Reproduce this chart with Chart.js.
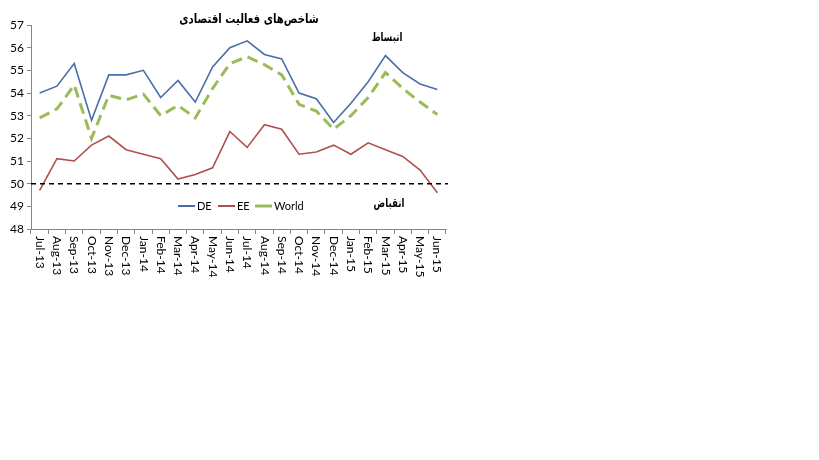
<!DOCTYPE html>
<html>
<head>
<meta charset="utf-8">
<script src="https://cdn.jsdelivr.net/npm/chart.js@4.4.1/dist/chart.umd.min.js"></script>
<style>
  html, body { margin: 0; padding: 0; background: #fff; }
  #wrap { width: 819px; height: 460px; position: relative; }
</style>
</head>
<body>
<div id="wrap"><canvas id="pmiChart" width="819" height="460"></canvas></div>
<script>
// months on the x axis
const months = ['Jul-13', 'Aug-13', 'Sep-13', 'Oct-13', 'Nov-13', 'Dec-13', 'Jan-14', 'Feb-14',
  'Mar-14', 'Apr-14', 'May-14', 'Jun-14', 'Jul-14', 'Aug-14', 'Sep-14', 'Oct-14', 'Nov-14',
  'Dec-14', 'Jan-15', 'Feb-15', 'Mar-15', 'Apr-15', 'May-15', 'Jun-15'];

// series values
const deValues = [54.0, 54.3, 55.3, 52.8, 54.8, 54.8, 55.0, 53.8, 54.55, 53.6, 55.15, 56.0,
  56.3, 55.7, 55.5, 54.0, 53.75, 52.7, 53.55, 54.5, 55.65, 54.9, 54.4, 54.15];
const eeValues = [49.7, 51.1, 51.0, 51.7, 52.1, 51.5, 51.3, 51.1, 50.2, 50.4, 50.7, 52.3,
  51.6, 52.6, 52.4, 51.3, 51.4, 51.7, 51.3, 51.8, 51.5, 51.2, 50.6, 49.6];
const worldValues = [52.9, 53.3, 54.35, 52.0, 53.9, 53.7, 53.95, 53.0, 53.45, 52.9, 54.2, 55.3,
  55.6, 55.25, 54.8, 53.5, 53.2, 52.4, 53.0, 53.8, 54.9, 54.2, 53.6, 53.05];

const yTicks = [48, 49, 50, 51, 52, 53, 54, 55, 56, 57];
const chartTitle = 'شاخص‌های فعالیت اقتصادی';
const expansionLabel = 'انبساط';
const contractionLabel = 'انقباض';
const thresholdValue = 50;

const legendItems = [
  { text: 'DE', color: '#4a6fa8', width: 2, x: 178 },
  { text: 'EE', color: '#b0504e', width: 2, x: 218 },
  { text: 'World', color: '#9bbb59', width: 3, x: 255 }
];

// squeezed text, the persian font in the original is narrower than DejaVu
function drawNarrow(ctx, text, cx, cy, squeeze) {
  ctx.save();
  ctx.translate(cx, cy);
  ctx.scale(squeeze, 1);
  ctx.fillText(text, 0, 0);
  ctx.restore();
}

// draws title, threshold line, side notes, rotated month labels and legend
const extrasPlugin = {
  id: 'extras',
  afterDatasetsDraw(chart) {
    const ctx = chart.ctx;
    const area = chart.chartArea;
    const x = chart.scales.x;
    const y = chart.scales.y;

    // dashed 50 line
    const y50 = y.getPixelForValue(thresholdValue);
    ctx.save();
    ctx.strokeStyle = '#000';
    ctx.lineWidth = 1.5;
    ctx.setLineDash([5, 4]);
    ctx.beginPath();
    ctx.moveTo(area.left, y50);
    ctx.lineTo(area.right + 2, y50);
    ctx.stroke();
    ctx.restore();

    // title and notes
    ctx.save();
    ctx.fillStyle = '#000';
    ctx.textAlign = 'center';
    ctx.textBaseline = 'middle';
    ctx.direction = 'rtl';
    ctx.font = 'bold 13px "DejaVu Sans", sans-serif';
    drawNarrow(ctx, chartTitle, 249, 20, 0.78);
    ctx.font = 'bold 12px "DejaVu Sans", sans-serif';
    drawNarrow(ctx, expansionLabel, 387, 38, 0.72);
    drawNarrow(ctx, contractionLabel, 389, 204, 0.72);
    ctx.restore();

    // month labels, rotated clockwise
    ctx.save();
    ctx.fillStyle = '#000';
    ctx.font = '12px Lato, "Open Sans", sans-serif';
    ctx.textAlign = 'left';
    ctx.textBaseline = 'middle';
    months.forEach((m, i) => {
      const px = x.getPixelForValue(i);
      ctx.save();
      ctx.translate(px, area.bottom + 7);
      ctx.rotate(Math.PI / 2);
      ctx.fillText(m, 0, 0);
      ctx.restore();
    });
    ctx.restore();

    // legend
    ctx.save();
    ctx.font = '11px Lato, "Open Sans", sans-serif';
    ctx.textBaseline = 'middle';
    ctx.fillStyle = '#000';
    legendItems.forEach(item => {
      ctx.strokeStyle = item.color;
      ctx.lineWidth = item.width;
      ctx.beginPath();
      ctx.moveTo(item.x, 206);
      ctx.lineTo(item.x + 17, 206);
      ctx.stroke();
      ctx.fillText(item.text, item.x + 19, 206);
    });
    ctx.restore();
  }
};

const ctx = document.getElementById('pmiChart').getContext('2d');
const myChart = new Chart(ctx, {
  type: 'line',
  data: {
    labels: months,
    datasets: [
      { label: 'DE', data: deValues, borderColor: '#4a6fa8', borderWidth: 1.6, pointRadius: 0, tension: 0 },
      { label: 'EE', data: eeValues, borderColor: '#b0504e', borderWidth: 1.6, pointRadius: 0, tension: 0 },
      { label: 'World', data: worldValues, borderColor: '#9bbb59', borderWidth: 3, borderDash: [11, 6], pointRadius: 0, tension: 0 }
    ]
  },
  options: {
    responsive: false,
    animation: false,
    devicePixelRatio: 1,
    layout: { padding: { top: 25, left: 0, right: 373, bottom: 0 } },
    plugins: {
      legend: { display: false },
      tooltip: { enabled: false },
      title: { display: false }
    },
    scales: {
      x: {
        offset: true,
        grid: { offset: true, drawOnChartArea: false, drawTicks: true, tickLength: 5, color: '#868686' },
        border: { display: true, color: '#868686' },
        ticks: { display: false },
        afterFit: s => { s.height = 231; }
      },
      y: {
        min: 48,
        max: 57,
        afterBuildTicks: s => { s.ticks = yTicks.map(v => ({ value: v })); },
        grid: { drawOnChartArea: false, drawTicks: true, tickLength: 4, color: '#868686' },
        border: { display: true, color: '#868686' },
        ticks: { color: '#000', font: { family: 'Lato', size: 12 }, padding: 3 },
        afterFit: s => { s.width = 31; }
      }
    }
  },
  plugins: [extrasPlugin]
});
</script>
</body>
</html>
